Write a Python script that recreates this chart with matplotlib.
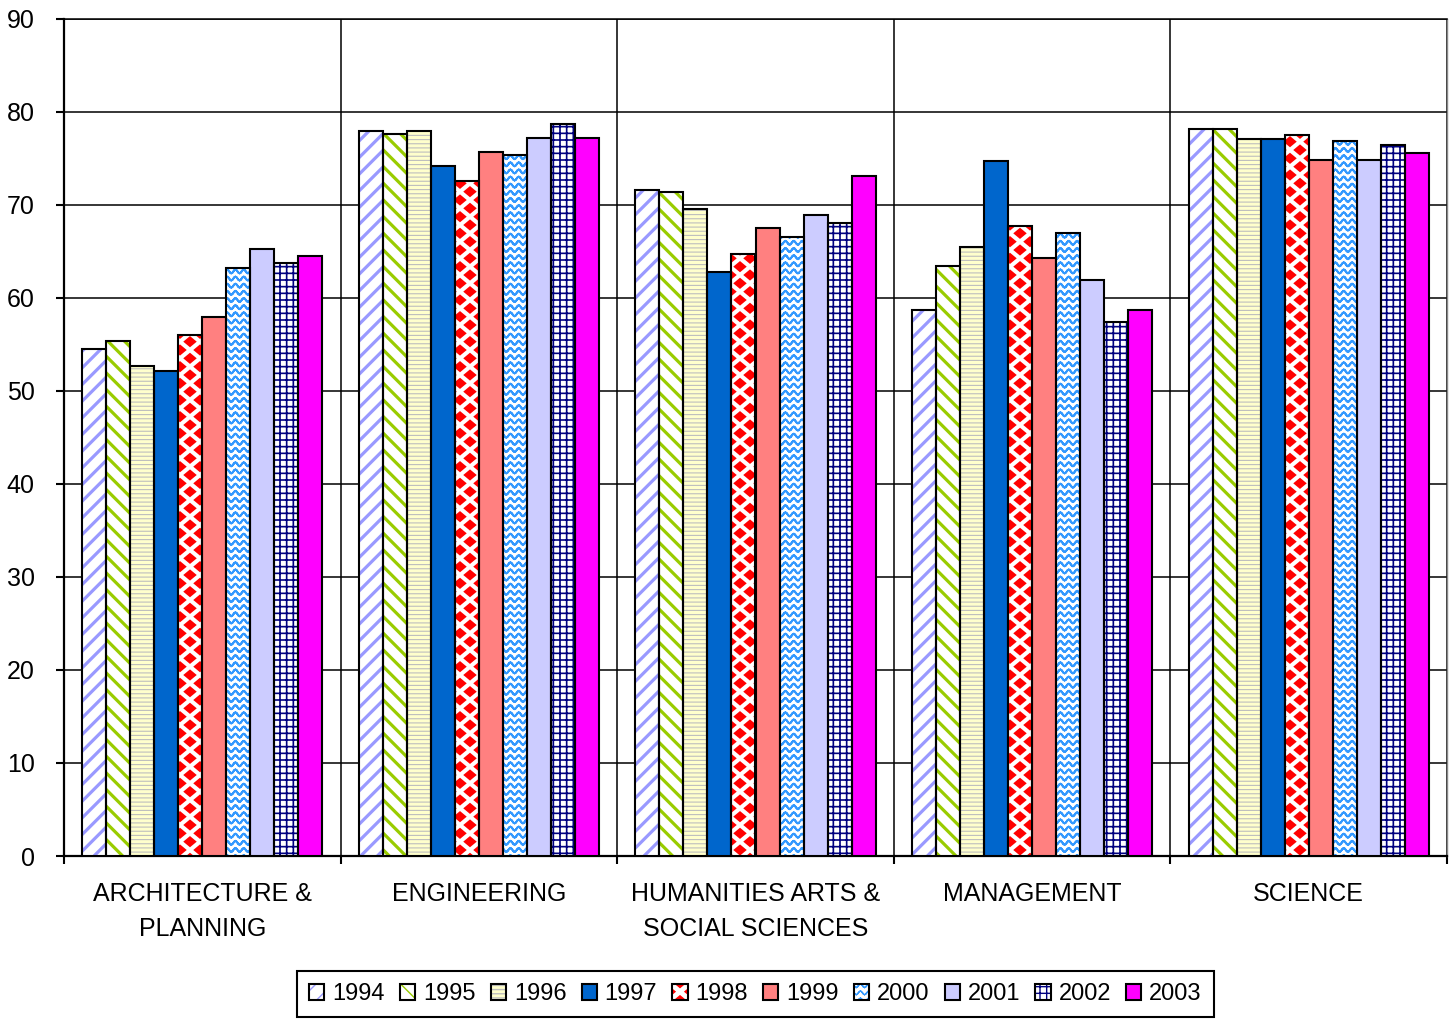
import warnings
import numpy as np
import matplotlib
matplotlib.use("Agg")
import matplotlib.pyplot as plt
from matplotlib import hatch as mhatch
from matplotlib.path import Path

warnings.filterwarnings("ignore")

# ---- data -------------------------------------------------------------
categories = ["ARCHITECTURE &\nPLANNING", "ENGINEERING",
              "HUMANITIES ARTS &\nSOCIAL SCIENCES", "MANAGEMENT", "SCIENCE"]
years = ["1994", "1995", "1996", "1997", "1998",
         "1999", "2000", "2001", "2002", "2003"]

v1994 = [54.5, 77.9, 71.6, 58.7, 78.1]
v1995 = [55.3, 77.6, 71.4, 63.4, 78.1]
v1996 = [52.7, 77.9, 69.5, 65.4, 77.0]
v1997 = [52.1, 74.2, 62.8, 74.7, 77.0]
v1998 = [56.0, 72.5, 64.7, 67.7, 77.5]
v1999 = [57.9, 75.7, 67.5, 64.3, 74.8]
v2000 = [63.2, 75.3, 66.5, 66.9, 76.8]
v2001 = [65.2, 77.2, 68.9, 61.9, 74.8]
v2002 = [63.7, 78.7, 68.0, 57.4, 76.4]
v2003 = [64.5, 77.2, 73.1, 58.7, 75.5]
series = [v1994, v1995, v1996, v1997, v1998,
          v1999, v2000, v2001, v2002, v2003]

y_ticks = list(range(0, 91, 10))


# ---- extra fill patterns ------------------------------------------------
class WaveHatch(mhatch.HatchPatternBase):
    """'~' : rows of wavy lines."""
    rows = 14
    periods = 12
    steps = 12 * 8

    def __init__(self, hatch, density):
        self.num_vertices = (self.rows + 1) * self.steps * 2 if "~" in hatch else 0

    def set_vertices_and_codes(self, vertices, codes):
        xs = np.linspace(0, 1, self.steps + 1)
        wave = 0.018 * np.sin(2 * np.pi * self.periods * xs)
        n = 0
        for r in range(self.rows + 1):
            ys = r / self.rows + wave
            for i in range(self.steps):
                vertices[n] = (xs[i], ys[i])
                vertices[n + 1] = (xs[i + 1], ys[i + 1])
                codes[n] = Path.MOVETO
                codes[n + 1] = Path.LINETO
                n += 2


class DiamondHatch(mhatch.HatchPatternBase):
    """'d' : staggered filled diamonds (a tilted checkerboard)."""
    cols = 5
    rows = 6

    def __init__(self, hatch, density):
        self.centers = []
        if "d" in hatch:
            for j in range(self.rows + 1):
                for i in range(self.cols + 1):
                    self.centers.append((i / self.cols, j / self.rows))
            for j in range(self.rows):
                for i in range(self.cols):
                    self.centers.append(((i + 0.5) / self.cols, (j + 0.5) / self.rows))
        self.num_vertices = len(self.centers) * 5

    def set_vertices_and_codes(self, vertices, codes):
        hw = 0.25 / self.cols
        hh = 0.25 / self.rows
        shape = np.array([(0, -hh), (hw, 0), (0, hh), (-hw, 0), (0, -hh)])
        for k, (cx, cy) in enumerate(self.centers):
            vertices[5 * k:5 * k + 5] = shape + (cx, cy)
            codes[5 * k] = Path.MOVETO
            codes[5 * k + 1:5 * k + 4] = Path.LINETO
            codes[5 * k + 4] = Path.CLOSEPOLY


class GridHatch(mhatch.HatchPatternBase):
    """'g' : square grid of thin lines."""
    lines = 15

    def __init__(self, hatch, density):
        self.num_vertices = (self.lines + 1) * 4 if "g" in hatch else 0

    def set_vertices_and_codes(self, vertices, codes):
        n = 0
        for i in range(self.lines + 1):
            t = i / self.lines
            vertices[n:n + 4] = [(0, t), (1, t), (t, 0), (t, 1)]
            codes[n:n + 4] = [Path.MOVETO, Path.LINETO, Path.MOVETO, Path.LINETO]
            n += 4


mhatch._hatch_types.extend([WaveHatch, DiamondHatch, GridHatch])

# ---- series styling ---------------------------------------------------
faces = ["white", "white", "#FFFFCC", "#0066CC", "white",
         "#FF8080", "white", "#CCCCFF", "white", "#FF00FF"]
hatch_colors = ["#9999FF", "#99CC00", "#BEBEBE", None, "#FF0000",
                None, "#3399FF", None, "#000080", None]
hatches = ["//", "\\\\", "----", None, "d", None, "~", None, "g", None]
hatch_widths = [2.3, 2.3, 0.8, 0.5, 1.6, 0.5, 1.4, 0.5, 1.2, 0.5]

plt.rcParams["font.family"] = ["Liberation Sans", "DejaVu Sans"]

fig = plt.figure(figsize=(14.53, 10.19), dpi=100)
ax = fig.add_axes([64 / 1453, 1 - 856 / 1019, (1447 - 64) / 1453, (856 - 18.5) / 1019])

x = np.arange(len(categories))
n = len(years)
w = 0.868 / n

handles = []
for k, vals in enumerate(series):
    pos = x + (k - (n - 1) / 2) * w
    with plt.rc_context({"hatch.linewidth": hatch_widths[k]}):
        fill = ax.bar(pos, vals, w, color=faces[k],
                      edgecolor=hatch_colors[k] or faces[k],
                      hatch=hatches[k], linewidth=0, zorder=3)
    for p in fill:
        if hasattr(p, "set_hatch_linewidth"):
            p.set_hatch_linewidth(hatch_widths[k])
    outline = ax.bar(pos, vals, w, fill=False, edgecolor="black",
                     linewidth=1.5, zorder=4)
    handles.append((fill, outline))

ax.set_xlim(-0.5, len(categories) - 0.5)
ax.set_ylim(0, 90)
ax.set_yticks(y_ticks)
ax.set_yticklabels([str(t) for t in y_ticks])

bounds = np.arange(-0.5, len(categories), 1.0)
ax.set_xticks(bounds)
ax.set_xticklabels([""] * len(bounds))
ax.set_xticks(x, minor=True)
ax.set_xticklabels(categories, minor=True, fontsize=18, linespacing=1.55)

ax.set_axisbelow(True)
ax.grid(True, which="major", axis="both", color="black", linewidth=1.1)

ax.tick_params(axis="y", which="major", direction="out", length=6, width=1.5,
               pad=15, labelsize=18, colors="black")
ax.tick_params(axis="x", which="major", direction="out", length=6, width=1.5)
ax.tick_params(axis="x", which="minor", length=0, pad=19)

for side in ["left", "bottom"]:
    ax.spines[side].set_linewidth(1.6)
    ax.spines[side].set_color("black")
ax.spines["top"].set_linewidth(1.1)
ax.spines["right"].set_color("#888888")
ax.spines["right"].set_linewidth(1.0)

leg = fig.legend(handles, years, loc="lower center", ncol=n,
                 bbox_to_anchor=(755.5 / 1453, 2 / 1019), borderaxespad=0,
                 fontsize=17, frameon=True, fancybox=False, framealpha=1,
                 edgecolor="black", handlelength=0.64, handleheight=0.64,
                 handletextpad=0.34, columnspacing=0.64, borderpad=0.5)
leg.get_frame().set_linewidth(1.5)

fig.savefig("out.png", dpi=100)
